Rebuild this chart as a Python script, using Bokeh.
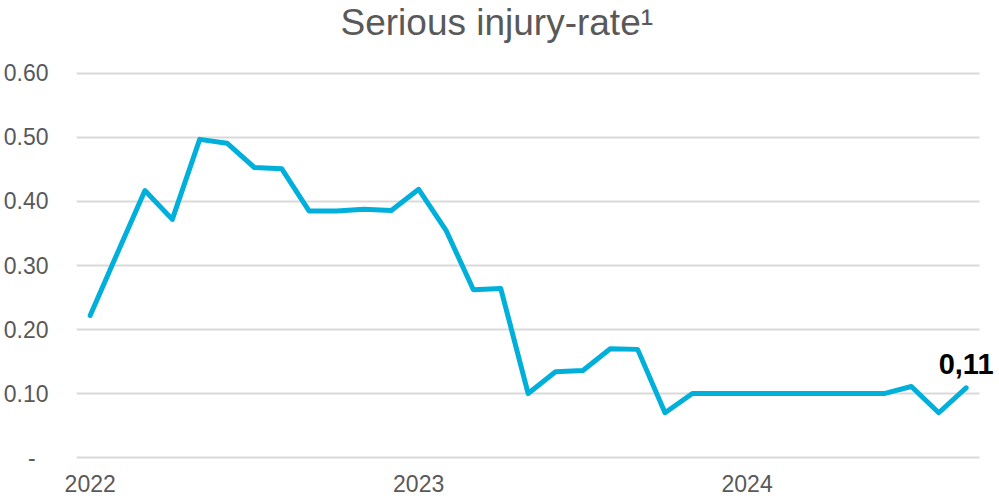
from bokeh.plotting import figure
from bokeh.models import Range1d, FixedTicker, Label, Title
from bokeh.embed import file_html
from bokeh.resources import INLINE

# ---- data ----
months = [
    "2022-01", "2022-02", "2022-03", "2022-04", "2022-05", "2022-06",
    "2022-07", "2022-08", "2022-09", "2022-10", "2022-11", "2022-12",
    "2023-01", "2023-02", "2023-03", "2023-04", "2023-05", "2023-06",
    "2023-07", "2023-08", "2023-09", "2023-10", "2023-11", "2023-12",
    "2024-01", "2024-02", "2024-03", "2024-04", "2024-05", "2024-06",
    "2024-07", "2024-08", "2024-09",
]
injury_rate = [
    0.222, 0.320, 0.417, 0.372, 0.497, 0.491,
    0.453, 0.451, 0.385, 0.385, 0.388, 0.386,
    0.419, 0.355, 0.262, 0.264, 0.100, 0.134,
    0.136, 0.170, 0.169, 0.070, 0.100, 0.100,
    0.100, 0.100, 0.100, 0.100, 0.100, 0.100,
    0.111, 0.070, 0.109,
]
year_labels = ["2022", "2023", "2024"]
y_ticks = [0.0, 0.1, 0.2, 0.3, 0.4, 0.5, 0.6]
y_tick_labels = ["-\u00a0\u00a0", "0.10", "0.20", "0.30", "0.40", "0.50", "0.60"]
title_text = "Serious injury-rate\u00b9"

x = list(range(len(months)))
year_ticks = [i for i, m in enumerate(months) if m.endswith("-01")]

x_start = -0.5
x_last = len(months) - 0.5
x_end = x_last + 0.72          # frame runs to the canvas edge so the end label is not clipped

p = figure(
    width=999, height=498,
    output_backend="svg", toolbar_location=None,
    x_range=Range1d(x_start, x_end),
    y_range=Range1d(-0.003, 0.603),
    min_border_left=76, min_border_right=0,
    min_border_top=71, min_border_bottom=39,
    background_fill_color="white", border_fill_color="white",
    outline_line_color=None,
)

# thin spacer between the plot frame and the title, pushes the title to the top
p.add_layout(Title(text=" ", text_font_size="1px", standoff=24), "above")

p.title.text = title_text
p.title.align = "left"
p.title.offset = 264
p.title.vertical_align = "top"
p.title.standoff = 0
p.title.text_font = "Liberation Sans"
p.title.text_font_size = "37px"
p.title.text_font_style = "normal"
p.title.text_color = "#595959"

p.line(x, injury_rate, line_color="#00B0DB", line_width=5,
       line_cap="round", line_join="round")

last = len(months) - 1
p.add_layout(Label(
    x=last, y=injury_rate[last],
    text=f"{injury_rate[last]:.2f}".replace(".", ","),
    text_font="Liberation Sans", text_font_size="29px",
    text_font_style="bold", text_color="black",
    text_align="center", text_baseline="alphabetic", y_offset=24,
))

# axes
p.xaxis.ticker = FixedTicker(ticks=year_ticks)
p.xaxis.major_label_overrides = {t: lab for t, lab in zip(year_ticks, year_labels)}
p.yaxis.ticker = FixedTicker(ticks=y_ticks)
p.yaxis.major_label_overrides = {t: lab for t, lab in zip(y_ticks, y_tick_labels)}

for ax in (p.xaxis[0], p.yaxis[0]):
    ax.axis_line_color = None
    ax.major_tick_line_color = None
    ax.minor_tick_line_color = None
    ax.major_tick_out = 0
    ax.major_tick_in = 0
    ax.major_label_text_font = "Liberation Sans"
    ax.major_label_text_font_size = "23px"
    ax.major_label_text_color = "#595959"

p.yaxis.major_label_standoff = 28
p.xaxis.major_label_standoff = 15

p.xgrid.grid_line_color = None
p.ygrid.grid_line_color = "#D9D9D9"
p.ygrid.grid_line_width = 2
p.ygrid.cross_bounds = (x_start, x_last)

open("out.html", "w").write(file_html(p, INLINE))
